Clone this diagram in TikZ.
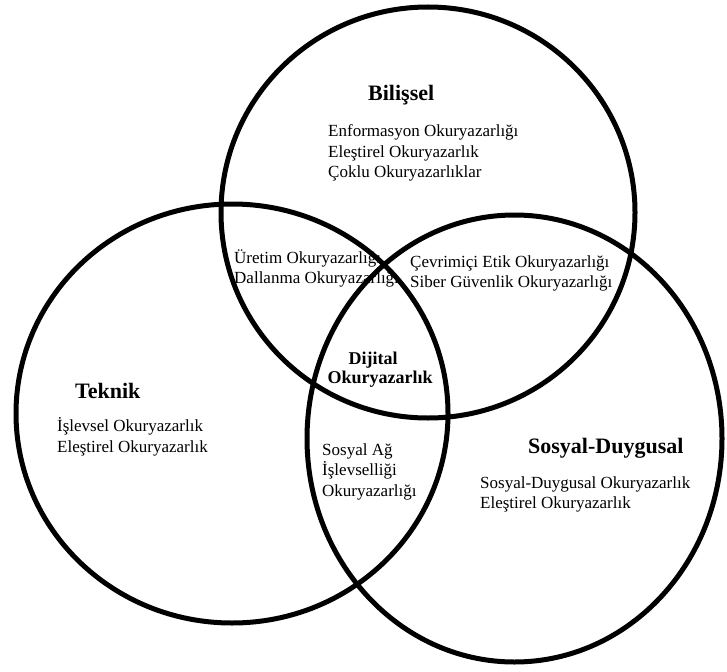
\documentclass[tikz,border=0pt]{standalone}
\usepackage{fontspec}
\setmainfont{Liberation Serif}
\begin{document}
\begin{tikzpicture}[x=1pt,y=-1pt,
  ring/.style={draw=black,line width=5pt},
  head/.style={anchor=base west,inner sep=0pt,font=\fontsize{22}{26}\selectfont\bfseries},
  item/.style={anchor=base west,inner sep=0pt,font=\fontsize{17}{20}\selectfont},
  core/.style={anchor=base,inner sep=0pt,font=\fontsize{18}{20}\selectfont\bfseries}]
\useasboundingbox (0,0) rectangle (727,671);
% Bilişsel
\node[head] (hb) at (368,101) {Bilişsel};
\node[item] (b1) at (328,137) {Enformasyon Okuryazarlığı};
\node[item] (b2) at (328,157.5) {Eleştirel Okuryazarlık};
\node[item] (b3) at (328,178) {Çoklu Okuryazarlıklar};
% Üretim
\node[item] (u1) at (234,263) {Üretim Okuryazarlığı};
\node[item] (u2) at (234,283) {Dallanma Okuryazarlığı};
% Çevrimiçi
\node[item] (c1) at (410,267) {Çevrimiçi Etik Okuryazarlığı};
\node[item] (c2) at (410,287) {Siber Güvenlik Okuryazarlığı};
% Dijital
\node[core] (d1) at (373,364) {Dijital};
\node[core] (d2) at (380,383) {Okuryazarlık};
% Teknik
\node[head] (ht) at (75,398) {Teknik};
\node[item] (t1) at (57,431) {İşlevsel Okuryazarlık};
\node[item] (t2) at (57,452) {Eleştirel Okuryazarlık};
% Sosyal Ağ
\node[item] (s1) at (322,455) {Sosyal Ağ};
\node[item] (s2) at (322,475.5) {İşlevselliği};
\node[item] (s3) at (322,496) {Okuryazarlığı};
% Sosyal-Duygusal
\node[head] (hs) at (528,453) {Sosyal-Duygusal};
\node[item] (e1) at (480,488) {Sosyal-Duygusal Okuryazarlık};
\node[item] (e2) at (480,508.5) {Eleştirel Okuryazarlık};
% circles
\draw[ring] (428,212.5) ellipse [x radius=207, y radius=205.5];
\draw[ring] (232,413.5) ellipse [x radius=216, y radius=209.5];
\draw[ring] (514.5,438.5) ellipse [x radius=207.5, y radius=223.5];
\end{tikzpicture}
\end{document}
